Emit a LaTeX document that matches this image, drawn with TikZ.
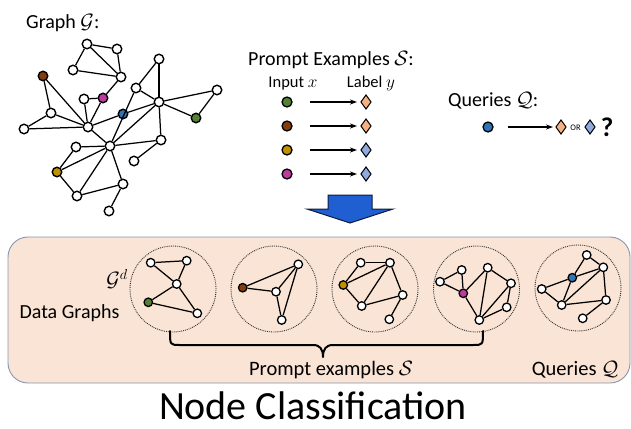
\documentclass[tikz,border=0pt]{standalone}
\usepackage{fontspec}
\setmainfont{Carlito}
\usetikzlibrary{arrows.meta,shapes.geometric}
\definecolor{cgreen}{HTML}{548235}
\definecolor{cbrown}{HTML}{843C0C}
\definecolor{cgold}{HTML}{BF9000}
\definecolor{cpink}{HTML}{C0399F}
\definecolor{cblue}{HTML}{2E75B6}
\definecolor{dorange}{HTML}{F4B183}
\definecolor{dblue}{HTML}{8FAADC}
\definecolor{panelfill}{HTML}{F9E4D5}
\definecolor{panelborder}{HTML}{8497B0}
\definecolor{bigblue}{HTML}{1F5FD2}
\definecolor{bigedge}{HTML}{0D1B3A}
\newcommand{\fs}[1]{\fontsize{#1}{#1}\selectfont}
\begin{document}
\begin{tikzpicture}[x=1pt,y=-1pt,
  gn/.style={circle,draw=black,line width=1.4pt,fill=white,minimum size=9.5pt,inner sep=0pt},
  sn/.style={circle,draw=black,line width=1.3pt,fill=white,minimum size=8.5pt,inner sep=0pt},
  pn/.style={circle,draw=black,line width=1.3pt,minimum size=10pt,inner sep=0pt},
  ed/.style={line width=1.25pt},
  dia/.style={diamond,draw=black,line width=1pt,minimum width=10.5pt,minimum height=14.5pt,inner sep=0pt},
  arr/.style={line width=1.2pt,-{Stealth[length=7pt,width=5pt]}},
  ring/.style={circle,draw=black!80,line width=0.9pt,dash pattern=on 0.9pt off 1pt,minimum size=86pt,inner sep=0pt},
  txt/.style={inner sep=0pt,anchor=base}]
\useasboundingbox (0,0) rectangle (631,428);

% ---------------- Top-left graph ----------------
\node[txt,anchor=base west] (gtitle) at (26,29) {\fs{20}Graph $\mathcal{G}$:};
\node[gn] (m1) at (87,44) {};
\node[gn] (m2) at (117,49) {};
\node[gn] (m3) at (73,70) {};
\node[gn] (m4) at (121,77) {};
\node[gn,fill=cbrown] (mbr) at (43,76) {};
\node[gn] (m5) at (159,59) {};
\node[gn] (m6) at (136,88) {};
\node[gn] (m7) at (84,99) {};
\node[gn,fill=cpink] (mpk) at (103,98) {};
\node[gn] (m8) at (159,102) {};
\node[gn] (m9) at (217,90) {};
\node[gn,fill=cgreen] (mgr) at (196,118) {};
\node[gn,fill=cblue] (mbl) at (123,114) {};
\node[gn] (m10) at (51,113) {};
\node[gn] (m11) at (24,129) {};
\node[gn] (m12) at (88,127) {};
\node[gn] (m13) at (76,147) {};
\node[gn] (m14) at (110,146) {};
\node[gn] (m15) at (161,140) {};
\node[gn] (m16) at (134,161) {};
\node[gn,fill=cgold] (mgd) at (57,172) {};
\node[gn] (m17) at (123,184) {};
\node[gn] (m18) at (77,196) {};
\node[gn] (m19) at (109,211) {};
\foreach \a/\b in {m1/m2,m1/m3,m1/m4,m2/m4,m3/m4,m4/mpk,mbr/m12,mbr/m10,m10/m11,m10/m12,m11/m12,
  m7/mpk,m7/m12,mpk/m12,m12/mbl,m12/m14,mbl/m8,m5/m6,m5/m8,m6/m8,m6/m14,m8/m9,m9/mgr,m8/mgr,
  m8/m15,m14/m15,m16/m15,m13/m14,m13/mgd,mgd/m14,mgd/m18,m18/m14,m14/m17,m18/m17,m17/m19,m14/m8}
  \draw[ed] (\a) -- (\b);

% ---------------- Prompt examples ----------------
\node[txt,anchor=base west] (ptitle) at (248,66) {\fs{20}Prompt Examples $\mathcal{S}$:};
\node[txt] (inx) at (293,87) {\fs{16.5}Input $x$};
\node[txt] (laby) at (371,87) {\fs{16.5}Label $y$};
\foreach \i/\yy/\c/\d in {1/102/cgreen/dorange,2/126/cbrown/dorange,3/150/cgold/dblue,4/174/cpink/dblue}{
  \node[pn,fill=\c] (p\i) at (287,\yy) {};
  \node[dia,fill=\d] (d\i) at (366,\yy) {};
  \coordinate (ps\i) at (310,\yy);
  \coordinate (pe\i) at (357,\yy);
  \draw[arr] (ps\i) -- (pe\i);
}

% ---------------- Queries ----------------
\node[txt,anchor=base west] (qtitle) at (448,106) {\fs{20}Queries $\mathcal{Q}$:};
\node[pn,fill=cblue] (qn) at (488,127) {};
\coordinate (qs) at (508,127);
\coordinate (qe) at (553,127);
\draw[arr] (qs) -- (qe);
\node[dia,fill=dorange] (qd1) at (561,127) {};
\node[inner sep=0pt] (qor) at (575.5,127.5) {\fs{8.5}OR};
\node[dia,fill=dblue] (qd2) at (590,127) {};
\node[inner sep=0pt] (qq) at (607,127) {\fs{27}\bfseries ?};

% ---------------- Big blue arrow ----------------
\draw[fill=bigblue,draw=bigedge,line width=1pt,line join=miter]
  (328,195) -- (372,195) -- (372,209) -- (393,209) -- (350,223) -- (307,209) -- (328,209) -- cycle;

% ---------------- Panel ----------------
\draw[draw=panelborder,fill=panelfill,line width=0.9pt,rounded corners=20pt] (8,237) rectangle (630,383);

\node[txt] (dg) at (69.5,318) {\fs{20}Data Graphs};
\node[inner sep=0pt] (gd) at (117,279) {\fs{20}$\mathcal{G}^d$};

\node[ring] (c1) at (173,289) {};
\node[ring] (c2) at (274,289) {};
\node[ring] (c3) at (375,289) {};
\node[ring] (c4) at (476.5,289) {};
\node[ring] (c5) at (578,288) {};

% graph 1
\node[sn] (a1) at (150.7,262.7) {};
\node[sn] (a2) at (186.7,260.7) {};
\node[sn] (a3) at (176.7,284) {};
\node[sn,fill=cgreen] (ag) at (148.3,302.3) {};
\node[sn] (a5) at (197.3,313.3) {};
\foreach \a/\b in {a1/a2,a1/a3,a2/a3,a3/ag,a3/a5,ag/a5} \draw[ed] (\a) -- (\b);
% graph 2
\node[sn,fill=cbrown] (bbr) at (242.7,287.7) {};
\node[sn] (bt) at (298.3,264.3) {};
\node[sn] (bm) at (276,291.7) {};
\node[sn] (bb) at (281.7,320) {};
\foreach \a/\b in {bbr/bt,bbr/bm,bm/bt,bm/bb,bt/bb} \draw[ed] (\a) -- (\b);
% graph 3
\node[sn] (ca) at (360.7,262.7) {};
\node[sn] (cb) at (390,262.7) {};
\node[sn,fill=cgold] (cg) at (343.3,285) {};
\node[sn] (cc) at (402.7,295) {};
\node[sn] (cd) at (361.7,306) {};
\node[sn] (ce) at (389.3,319.3) {};
\foreach \a/\b in {cg/ca,cg/cb,ca/cb,cb/cc,cb/cd,cg/cd,cd/cc,cc/ce} \draw[ed] (\a) -- (\b);
% graph 4
\node[sn] (da) at (440,281.7) {};
\node[sn] (db) at (461.7,270) {};
\node[sn,fill=cpink] (dp) at (463.3,293.3) {};
\node[sn] (dc) at (487.7,267.7) {};
\node[sn] (dd) at (511,283.3) {};
\node[sn] (de) at (506.7,307.3) {};
\node[sn] (df) at (479.3,320) {};
\foreach \a/\b in {da/db,da/dp,db/dp,dp/dc,dc/dd,dc/df,dd/de,dd/df,de/df,dp/df} \draw[ed] (\a) -- (\b);
% graph 5
\node[sn] (ea) at (586.7,255) {};
\node[sn] (eb) at (603.3,267.3) {};
\node[sn,fill=cblue] (ebl) at (572.3,277.7) {};
\node[sn] (ec) at (541.7,289) {};
\node[sn] (ed) at (561.7,305) {};
\node[sn] (ee) at (606,300) {};
\node[sn] (ef) at (582.7,318.3) {};
\foreach \a/\b in {ea/eb,ea/ebl,ebl/eb,ebl/ec,ebl/ed,eb/ed,eb/ee,ed/ee,ec/ed,ee/ef} \draw[ed] (\a) -- (\b);

% brace
\coordinate (bl) at (170,331);
\coordinate (br) at (483,331);
\coordinate (btip) at (323,357);
\draw[line width=2pt,line cap=round,line join=round]
  (bl) .. controls (170,345) and (170,345) .. (180,345) -- (313,345)
  .. controls (320,345) and (323,349) .. (btip)
  .. controls (323,349) and (326,345) .. (333,345) -- (473,345)
  .. controls (483,345) and (483,345) .. (br);

\node[txt] (pex) at (331,375) {\fs{20.5}Prompt examples $\mathcal{S}$};
\node[txt] (qex) at (575,375) {\fs{20.5}Queries $\mathcal{Q}$};

\node[txt] (title) at (313,419) {\fs{40}Node Classification};
\end{tikzpicture}
\end{document}
